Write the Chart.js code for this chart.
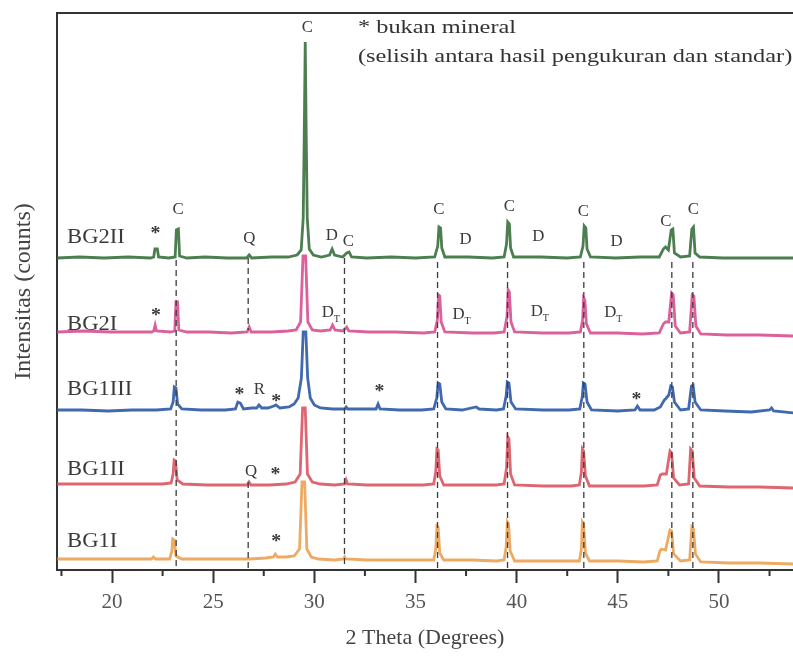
<!DOCTYPE html>
<html>
<head>
<meta charset="utf-8">
<script src="https://cdn.jsdelivr.net/npm/chart.js@4.4.1/dist/chart.umd.min.js"></script>
<style>
html, body { margin: 0; padding: 0; background: #fff; }
</style>
</head>
<body>
<canvas id="xrdChart" width="793" height="656"></canvas>
<script>
// 2-theta (degrees) vs relative intensity
const sampleNames = ['BG2II', 'BG2I', 'BG1III', 'BG1II', 'BG1I'];

const bg2ii = [[17.3,0],[18.4,1],[19.6,0],[20.8,1],[21.9,0],[22.06,1],[22.12,9],[22.24,9],[22.3,1],[22.8,0],[23.12,1],[23.18,28],[23.28,29],[23.34,2],[23.7,0],[24.6,1],[25.7,0],[26.65,0],[26.78,3],[26.9,0],[27.9,1],[28.7,1],[29.15,3],[29.35,8],[29.45,40],[29.5,120],[29.55,216],[29.6,120],[29.65,40],[29.75,9],[29.95,3],[30.35,1],[30.75,3],[30.88,9],[31.0,3],[31.4,1],[31.6,5],[31.72,6],[31.84,1],[32.6,0],[33.8,1],[35.0,0],[35.95,1],[36.1,12],[36.16,31],[36.24,30],[36.3,10],[36.45,1],[37.6,1],[38.8,0],[39.38,1],[39.5,14],[39.56,36],[39.64,34],[39.7,10],[39.85,1],[41.2,1],[42.5,0],[43.15,1],[43.28,12],[43.34,32],[43.42,30],[43.48,9],[43.65,1],[44.9,0],[46.1,1],[47.05,1],[47.25,9],[47.36,11],[47.5,8],[47.64,28],[47.72,29],[47.8,5],[48.1,1],[48.55,2],[48.66,29],[48.74,31],[48.82,5],[49.05,1],[50.2,0],[51.6,0],[53.7,0]];

const bg2i = [[17.3,0],[18.6,1],[19.9,0],[21.1,0],[21.95,0],[22.06,1],[22.13,7],[22.2,1],[22.9,0],[23.1,1],[23.16,30],[23.24,30],[23.3,2],[23.7,0],[24.8,0],[25.9,-1],[26.68,0],[26.78,5],[26.88,0],[27.9,0],[28.7,1],[29.1,2],[29.32,10],[29.44,76],[29.57,76],[29.68,10],[29.9,2],[30.3,1],[30.78,2],[30.9,7],[31.02,2],[31.4,1],[31.6,5],[31.7,1],[32.7,0],[34.0,0],[35.4,-1],[35.95,0],[36.08,12],[36.14,37],[36.2,36],[36.27,10],[36.45,0],[37.8,-1],[38.9,-1],[39.38,0],[39.52,15],[39.58,42],[39.64,40],[39.72,10],[39.9,0],[41.3,-1],[42.6,-1],[43.15,0],[43.26,12],[43.31,34],[43.37,32],[43.45,8],[43.65,-1],[45.0,-1],[46.2,-2],[47.05,-1],[47.25,8],[47.36,10],[47.52,10],[47.66,39],[47.74,37],[47.84,6],[48.1,-1],[48.55,0],[48.68,37],[48.76,36],[48.86,6],[49.1,-2],[50.4,-3],[52.0,-3],[53.7,-4]];

const bg1iii = [[17.3,0],[18.5,0],[19.8,-1],[21.0,0],[22.2,0],[22.9,1],[23.02,8],[23.08,23],[23.16,22],[23.24,6],[23.45,1],[24.4,0],[25.6,0],[26.1,1],[26.22,8],[26.34,7],[26.5,1],[26.9,2],[27.15,2],[27.26,5],[27.4,2],[27.7,2],[28.0,4],[28.1,5],[28.3,2],[28.75,3],[29.0,6],[29.2,12],[29.36,32],[29.45,78],[29.58,78],[29.67,32],[29.8,12],[30.0,5],[30.3,2],[30.9,1],[31.5,1],[31.57,3],[31.65,1],[32.6,1],[33.05,1],[33.15,6],[33.25,1],[34.2,0],[35.3,0],[35.9,1],[36.05,12],[36.12,27],[36.2,26],[36.3,8],[36.5,1],[37.3,0],[38.0,3],[38.15,1],[39.0,0],[39.35,1],[39.48,14],[39.54,28],[39.62,27],[39.72,8],[39.95,1],[41.3,0],[42.6,0],[43.12,1],[43.24,13],[43.3,27],[43.38,26],[43.48,8],[43.7,0],[45.0,-1],[45.85,0],[45.97,4],[46.1,0],[46.8,0],[47.1,3],[47.3,10],[47.4,12],[47.52,15],[47.62,24],[47.7,23],[47.8,8],[48.1,0],[48.5,1],[48.64,24],[48.72,25],[48.82,8],[49.1,0],[50.3,-1],[51.6,-2],[52.5,0],[52.6,2],[52.7,-1],[53.7,-3]];

const bg1ii = [[17.3,0],[18.7,0],[20.0,0],[21.3,0],[22.5,0],[22.92,1],[23.02,10],[23.07,24],[23.14,23],[23.22,4],[23.5,0],[24.7,-1],[25.9,-1],[26.68,-1],[26.77,2],[26.86,-1],[27.8,-1],[28.6,0],[29.05,2],[29.3,10],[29.42,76],[29.55,76],[29.66,10],[29.9,2],[30.3,0],[31.0,-1],[31.5,0],[31.57,4],[31.64,0],[32.6,-1],[34.0,-1],[35.4,-1],[35.9,0],[36.0,12],[36.06,35],[36.12,34],[36.2,8],[36.4,-1],[37.8,-1],[39.0,-1],[39.38,0],[39.5,16],[39.56,47],[39.62,45],[39.7,10],[39.9,-1],[41.3,-2],[42.7,-2],[43.1,-1],[43.2,12],[43.25,35],[43.31,33],[43.4,8],[43.6,-2],[45.0,-2],[46.3,-2],[46.95,-1],[47.1,9],[47.2,10],[47.4,10],[47.58,33],[47.66,31],[47.76,6],[48.05,-1],[48.5,0],[48.6,35],[48.68,33],[48.78,6],[49.05,-2],[50.5,-3],[52.0,-3],[53.7,-4]];

const bg1i = [[17.3,0],[18.6,0],[19.9,0],[21.2,0],[21.95,0],[22.05,2],[22.15,0],[22.85,0],[22.96,8],[23.0,20],[23.08,19],[23.16,3],[23.45,0],[24.6,0],[25.8,0],[26.8,0],[27.6,1],[27.98,2],[28.07,5],[28.18,2],[28.6,2],[29.0,3],[29.27,10],[29.39,77],[29.52,77],[29.63,10],[29.85,2],[30.2,0],[31.0,-1],[31.45,0],[31.5,2],[31.56,0],[32.6,-1],[34.0,-1],[35.4,-1],[35.9,-1],[36.0,10],[36.06,33],[36.12,32],[36.2,6],[36.4,-1],[37.8,-1],[39.0,-2],[39.38,-1],[39.48,12],[39.54,37],[39.6,35],[39.68,8],[39.9,-2],[41.3,-2],[42.7,-2],[43.1,-2],[43.2,10],[43.25,37],[43.31,35],[43.4,6],[43.6,-2],[45.0,-2],[46.3,-3],[46.95,-2],[47.08,8],[47.16,10],[47.36,9],[47.58,29],[47.66,28],[47.76,5],[48.1,-2],[48.55,-1],[48.66,32],[48.74,30],[48.84,5],[49.1,-3],[50.5,-4],[52.0,-4],[53.7,-5]];

const sampleData = [bg2ii, bg2i, bg1iii, bg1ii, bg1i];

// reference peak positions (dashed guides): [2theta, from, to]
const guideLines = [[23.17,310,2],[26.73,312,240],[26.73,88,2],[31.49,312,5],[36.09,308,2],[39.55,308,2],[43.32,308,2],[47.67,308,2],[48.71,308,2]];

// phase tags: [text, 2theta, height]
const peakTags = [
  ['*',22.15,339],['C',23.27,360],['Q',26.79,331],['C',29.65,542],['D',30.86,334],['C',31.68,328],
  ['C',36.16,360],['D',37.48,330],['C',39.64,363],['D',41.07,333],['C',43.3,358],['D',44.94,328],['C',47.38,348],['C',48.73,360],
  ['*',22.17,257],['DT',30.82,257],['DT',37.28,255],['DT',41.15,258],['DT',44.78,257],
  ['*',26.3,178],['R',27.28,180],['*',28.11,171],['*',33.22,181],['*',45.92,173],
  ['Q',26.87,98],['*',28.08,98],
  ['*',28.12,31]
];

const stackShift = [312, 238, 160, 86, 11];
const nameHeights = [332, 245, 180, 100, 28];
const traceColors = ['#4c7e50', '#da619b', '#4169b0', '#de6671', '#eeaa62'];

Chart.defaults.font.family = "'Liberation Serif', 'Times New Roman', serif";

function putText(ctx, str, px, py, size, sx, align, weight) {
    ctx.save();
    ctx.font = (weight || '') + ' ' + size + "px 'Liberation Serif'";
    ctx.textBaseline = 'middle';
    ctx.textAlign = align || 'center';
    ctx.translate(px, py);
    ctx.scale(sx, 1);
    ctx.fillText(str, 0, 0);
    ctx.restore();
}

const overlay = {
    id: 'overlay',
    afterDatasetsDraw(chart) {
        const { ctx, chartArea: a, scales: { x, y } } = chart;
        ctx.save();
        ctx.strokeStyle = '#333';
        ctx.lineWidth = 2;
        ctx.beginPath();
        ctx.moveTo(a.left, a.top);
        ctx.lineTo(a.right, a.top);
        ctx.stroke();

        // short minor ticks
        for (let v = 17.5; v < 54; v += 5) {
            const px = x.getPixelForValue(v);
            ctx.beginPath();
            ctx.moveTo(px, a.bottom);
            ctx.lineTo(px, a.bottom + 6);
            ctx.stroke();
        }

        ctx.fillStyle = '#3a3a3a';
        sampleNames.forEach((name, i) => {
            putText(ctx, name, x.getPixelForValue(17.78), y.getPixelForValue(nameHeights[i]), 20, 1.13, 'left');
        });

        peakTags.forEach(([t, tt, h]) => {
            const px = x.getPixelForValue(tt);
            const py = y.getPixelForValue(h);
            if (t === '*') {
                putText(ctx, '*', px, py + 3, 18, 1.1, 'center', 'bold');
            } else if (t === 'DT') {
                putText(ctx, 'D', px - 3, py, 16, 1.05);
                putText(ctx, 'T', px + 6, py + 6, 10, 1.0);
            } else {
                putText(ctx, t, px, py, 16, 1.05);
            }
        });

        ctx.fillStyle = '#333';
        putText(ctx, '* bukan mineral', 358, 28, 19, 1.28, 'left');
        putText(ctx, '(selisih antara hasil pengukuran dan standar)', 358, 57, 19, 1.28, 'left');
        ctx.restore();
    }
};

const datasets = sampleData.map((pts, i) => ({
    label: sampleNames[i],
    data: pts.map(([tt, c]) => ({ x: tt, y: c + stackShift[i] })),
    borderColor: traceColors[i],
    borderWidth: 2.8,
    pointRadius: 0,
    tension: 0,
    order: 0
}));

guideLines.forEach(([tt, top, bottom]) => {
    datasets.push({
        label: 'ref',
        data: [{ x: tt, y: top }, { x: tt, y: bottom }],
        borderColor: '#3c3c3c',
        borderWidth: 1.3,
        borderDash: [6, 4],
        pointRadius: 0,
        order: -1
    });
});

const ctx = document.getElementById('xrdChart').getContext('2d');
const xrdChart = new Chart(ctx, {
    type: 'line',
    data: { datasets },
    options: {
        responsive: false,
        animation: false,
        devicePixelRatio: 1,
        layout: { padding: { top: 13, left: 0, right: 0, bottom: 0 } },
        plugins: { legend: { display: false }, tooltip: { enabled: false } },
        scales: {
            x: {
                type: 'linear',
                min: 17.28,
                max: 53.66,
                afterFit: s => { s.height = 86; },
                border: { display: true, color: '#333', width: 2 },
                grid: {
                    display: true,
                    drawOnChartArea: false,
                    drawTicks: true,
                    tickLength: 13,
                    tickWidth: 2,
                    tickColor: c => (c.tick && c.tick.value % 5 === 0) ? '#333' : 'rgba(0,0,0,0)'
                },
                ticks: {
                    stepSize: 2.5,
                    includeBounds: false,
                    autoSkip: false,
                    maxRotation: 0,
                    padding: 7,
                    color: '#555',
                    font: { size: 21 },
                    callback: v => (v % 5 === 0 ? String(v) : '')
                },
                title: {
                    display: true,
                    text: '2 Theta (Degrees)',
                    color: '#444',
                    font: { size: 22 },
                    padding: { top: 0, bottom: 5 }
                }
            },
            y: {
                min: 0,
                max: 557,
                afterFit: s => { s.width = 57; },
                border: { display: true, color: '#333', width: 2 },
                grid: { display: false },
                ticks: { display: false },
                title: {
                    display: true,
                    text: 'Intensitas (counts)',
                    color: '#444',
                    font: { size: 24 },
                    padding: { top: 9, bottom: 0 }
                }
            }
        }
    },
    plugins: [overlay]
});
</script>
</body>
</html>
